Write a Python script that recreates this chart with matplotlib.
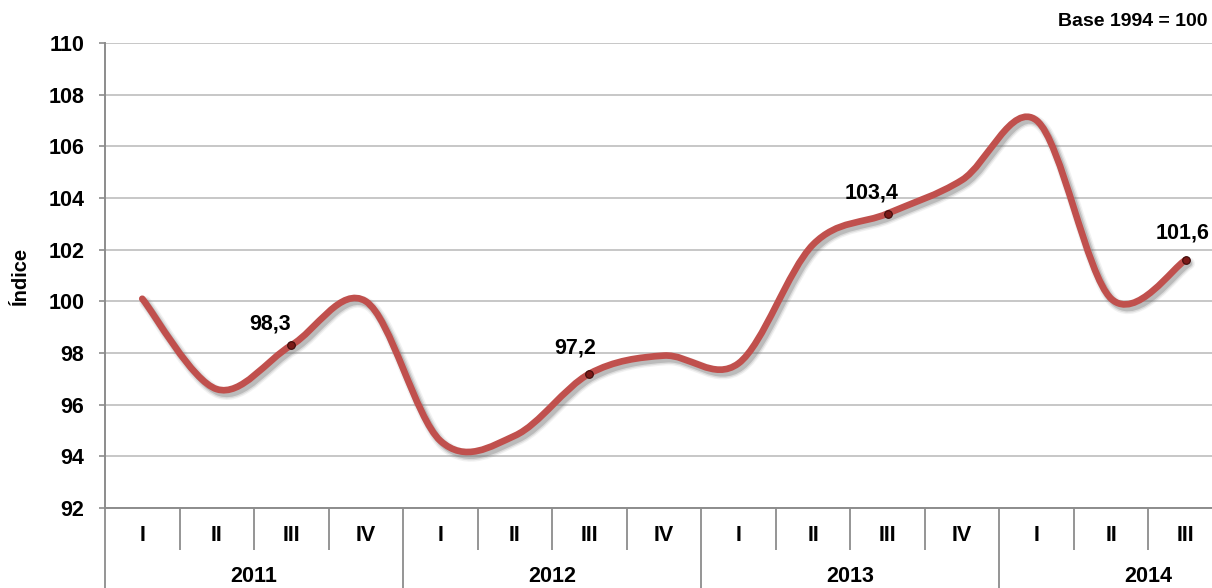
import matplotlib
matplotlib.use("Agg")
import matplotlib.pyplot as plt
import matplotlib.patheffects as pe
from matplotlib.path import Path
from matplotlib.patches import PathPatch
from matplotlib.transforms import blended_transform_factory
import numpy as np

plt.rcParams['font.family'] = ['Liberation Sans', 'DejaVu Sans']

# ---------------- data ----------------
years = ["2011", "2012", "2013", "2014"]
quarters = ["I", "II", "III", "IV", "I", "II", "III", "IV",
            "I", "II", "III", "IV", "I", "II", "III"]
values = [100.1, 96.6, 98.3, 100.0,
          94.6, 94.8, 97.2, 97.9,
          97.6, 102.2, 103.4, 104.7,
          107.0, 100.1, 101.6]
labeled_idx = [2, 6, 10, 14]
label_texts = ["98,3", "97,2", "103,4", "101,6"]
label_offsets_px = [(-21, 21), (-14, 26), (-16, 20), (-3, 27)]   # layout only
yticks = list(range(92, 111, 2))

line_color = "#C0504D"
grid_color = "#C3C3C3"
axis_color = "#8C8C8C"
FS = 15.5

W, H = 1212, 588
fig = plt.figure(figsize=(W / 100, H / 100), dpi=100)
ax = fig.add_axes([105 / W, (H - 508) / H, 1118 / W, 465 / H])

x = np.arange(len(values))
y = np.array(values, dtype=float)

# smoothed line (Catmull-Rom style Bezier, like Excel's "smoothed line")
pts = np.column_stack([x, y])
ext = np.vstack([pts[0], pts, pts[-1]])
verts = [tuple(pts[0])]
codes = [Path.MOVETO]
for i in range(len(pts) - 1):
    p_prev, p0, p1, p_next = ext[i], ext[i + 1], ext[i + 2], ext[i + 3]
    c1 = p0 + (p1 - p_prev) / 6.0
    c2 = p1 - (p_next - p0) / 6.0
    verts += [tuple(c1), tuple(c2), tuple(p1)]
    codes += [Path.CURVE4] * 3
path = Path(verts, codes)

lw = 4.8
shadow = [
    pe.SimpleLineShadow(offset=(2.2, -2.6), shadow_color="#7a7a7a", alpha=0.10, linewidth=lw + 4),
    pe.SimpleLineShadow(offset=(2.2, -2.6), shadow_color="#7a7a7a", alpha=0.18, linewidth=lw + 2),
    pe.SimpleLineShadow(offset=(2.2, -2.6), shadow_color="#6a6a6a", alpha=0.28, linewidth=lw),
    pe.Normal(),
]
patch = PathPatch(path, fill=False, edgecolor=line_color, linewidth=lw,
                  capstyle="round", joinstyle="round", zorder=3,
                  path_effects=shadow)
ax.add_patch(patch)

# markers + labels
for k, i in enumerate(labeled_idx):
    ax.plot(x[i], y[i], marker="o", markersize=5.5, color="#7a1a18",
            markeredgecolor="#3d0b0a", markeredgewidth=0.8, zorder=4)
    dx, dy = label_offsets_px[k]
    ax.annotate(label_texts[k], (x[i], y[i]), xytext=(dx * 0.72, dy * 0.72),
                textcoords="offset points", ha="center", va="center",
                fontsize=FS, fontweight="bold", color="black", zorder=5,
                annotation_clip=False)

# axes
ax.set_xlim(-0.5, len(values) - 0.5)
ax.set_ylim(92, 110)
ax.set_yticks(yticks)
ax.set_yticklabels([str(t) for t in yticks], fontsize=FS, fontweight="bold")
ax.yaxis.grid(True, color=grid_color, linewidth=1.3)
ax.set_axisbelow(True)
for s in ["top", "right"]:
    ax.spines[s].set_visible(False)
for s in ["left", "bottom"]:
    ax.spines[s].set_color(axis_color)
    ax.spines[s].set_linewidth(1.4)
ax.tick_params(axis="y", direction="out", length=4.3, width=1.2,
               color=axis_color, pad=10.5)

# category axis: quarter separators (minor) and year separators (major)
year_bounds = [-0.5, 3.5, 7.5, 11.5]
quarter_bounds = [b - 0.5 for b in range(1, len(values)) if (b - 0.5) not in year_bounds]
ax.set_xticks(year_bounds)
ax.set_xticklabels([])
ax.set_xticks(quarter_bounds, minor=True)
ax.tick_params(axis="x", which="major", direction="out", length=62, width=1.3,
               color=axis_color)
ax.tick_params(axis="x", which="minor", direction="out", length=30, width=1.3,
               color=axis_color)

trans = blended_transform_factory(ax.transData, ax.transAxes)
for i, q in enumerate(quarters):
    ax.text(i, -0.0596, q, transform=trans, ha="center", va="center",
            fontsize=FS, fontweight="bold")
start = 0
for yr in years:
    centre = start + 1.5
    ax.text(centre, -0.148, yr, transform=trans, ha="center", va="center",
            fontsize=FS, fontweight="bold")
    start += 4

ax.set_ylabel("Índice", fontsize=14.5, fontweight="bold")
ax.yaxis.set_label_coords(-0.067, 0.5)

fig.text(1208 / W, 1 - 22 / H, "Base 1994 = 100", ha="right", va="center",
         fontsize=14, fontweight="bold")

fig.savefig("out.png", dpi=100)
